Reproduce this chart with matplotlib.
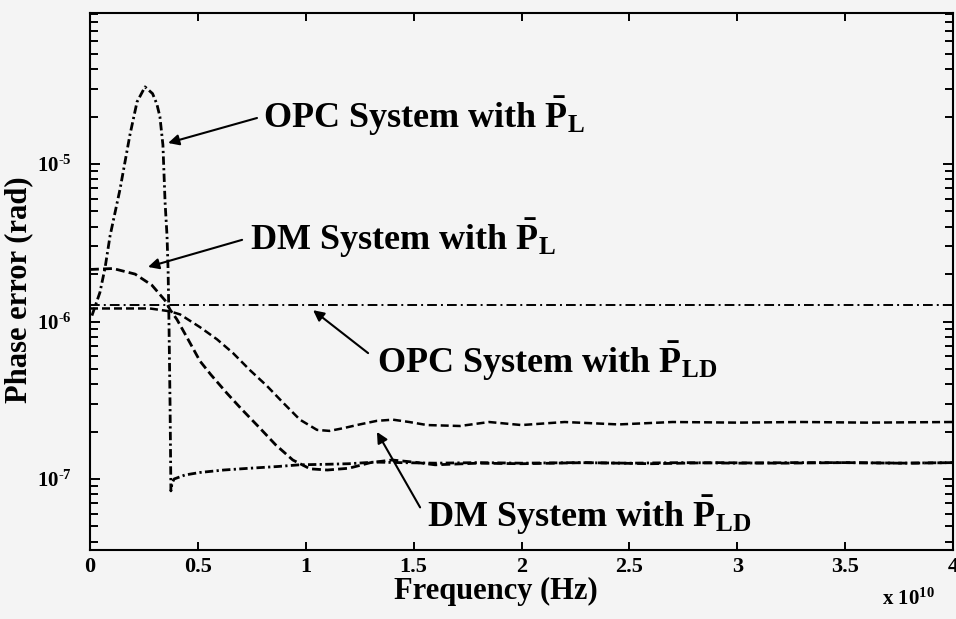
import numpy as np
import matplotlib
matplotlib.use("Agg")
import matplotlib.pyplot as plt
from matplotlib.ticker import FixedLocator, FixedFormatter, LogLocator, NullFormatter

plt.rcParams['font.family'] = ['Liberation Serif', 'DejaVu Serif']
plt.rcParams['font.weight'] = 'bold'
plt.rcParams['mathtext.fontset'] = 'custom'
plt.rcParams['mathtext.rm'] = 'Liberation Serif:bold'
plt.rcParams['mathtext.bf'] = 'Liberation Serif:bold'
plt.rcParams['mathtext.it'] = 'Liberation Serif:bold:italic'

# frequency in units of 1e10 Hz, phase error in rad
opc_pl_f = [0.009, 0.046, 0.07, 0.093, 0.139, 0.185, 0.218, 0.255, 0.29, 0.31, 0.324,
            0.338, 0.348, 0.357, 0.362, 0.366, 0.371, 0.375, 0.38, 0.39, 0.44, 0.51,
            0.62, 0.74, 0.87, 0.97, 1.1, 1.2, 1.32, 1.44, 1.6, 1.8, 2.0, 2.25, 2.5,
            2.75, 3.0, 3.25, 3.5, 3.75, 4.0]
opc_pl_y = [1.09e-6, 1.53e-6, 2.2e-6, 3.5e-6, 6.9e-6, 1.53e-5, 2.48e-5, 3.09e-5, 2.8e-5,
            2.4e-5, 2.0e-5, 1.32e-5, 5.7e-6, 3.5e-6, 2.1e-6, 1.0e-6, 3.0e-7, 8.4e-8,
            9.4e-8, 1.0e-7, 1.06e-7, 1.1e-7, 1.14e-7, 1.17e-7, 1.2e-7, 1.23e-7, 1.24e-7,
            1.25e-7, 1.28e-7, 1.27e-7, 1.26e-7, 1.27e-7, 1.26e-7, 1.27e-7, 1.26e-7,
            1.27e-7, 1.26e-7, 1.27e-7, 1.27e-7, 1.26e-7, 1.27e-7]

dm_pl_f = [0.0, 0.107, 0.209, 0.287, 0.348, 0.371, 0.403, 0.45, 0.51, 0.56, 0.635,
           0.7, 0.788, 0.86, 0.94, 1.02, 1.1, 1.2, 1.3, 1.4, 1.5, 1.6, 1.8, 2.0, 2.3,
           2.6, 2.9, 3.2, 3.5, 3.8, 4.0]
dm_pl_y = [2.14e-6, 2.17e-6, 2.0e-6, 1.7e-6, 1.36e-6, 1.19e-6, 1.03e-6, 7.9e-7, 5.6e-7,
           4.6e-7, 3.5e-7, 2.8e-7, 2.1e-7, 1.65e-7, 1.32e-7, 1.16e-7, 1.14e-7, 1.17e-7,
           1.27e-7, 1.32e-7, 1.28e-7, 1.23e-7, 1.26e-7, 1.25e-7, 1.27e-7, 1.25e-7,
           1.27e-7, 1.26e-7, 1.27e-7, 1.26e-7, 1.27e-7]

opc_pld_f = [0.0, 1.0, 2.0, 3.0, 4.0]
opc_pld_y = [1.28e-6, 1.28e-6, 1.28e-6, 1.28e-6, 1.28e-6]

dm_pld_f = [0.0, 0.15, 0.278, 0.371, 0.417, 0.51, 0.589, 0.663, 0.742, 0.82, 0.895,
            0.973, 1.052, 1.11, 1.173, 1.25, 1.33, 1.404, 1.48, 1.562, 1.715, 1.85,
            2.0, 2.2, 2.45, 2.7, 3.0, 3.3, 3.6, 4.0]
dm_pld_y = [1.21e-6, 1.21e-6, 1.21e-6, 1.16e-6, 1.11e-6, 9.2e-7, 7.7e-7, 6.3e-7, 4.9e-7,
            3.9e-7, 3.05e-7, 2.38e-7, 2.05e-7, 2.02e-7, 2.1e-7, 2.22e-7, 2.34e-7,
            2.38e-7, 2.3e-7, 2.2e-7, 2.17e-7, 2.3e-7, 2.2e-7, 2.3e-7, 2.22e-7, 2.3e-7,
            2.28e-7, 2.3e-7, 2.28e-7, 2.3e-7]

x_ticks = [0, 0.5, 1, 1.5, 2, 2.5, 3, 3.5, 4]
x_labels = ['0', '0.5', '1', '1.5', '2', '2.5', '3', '3.5', '4']
y_ticks = [1e-7, 1e-6, 1e-5]
y_labels = [r'$10^{\text{-}7}$', r'$10^{\text{-}6}$', r'$10^{\text{-}5}$']

bg = '#f4f4f4'
fig = plt.figure(figsize=(9.56, 6.19), dpi=100, facecolor=bg)
ax = fig.add_axes([90/956, 1-550/619, 863/956, 537/619], facecolor=bg)

ax.plot(opc_pl_f, opc_pl_y, color='k', lw=2.0, dashes=(3, 1.2, 0.8, 1.2))
ax.plot(dm_pl_f, dm_pl_y, color='k', lw=2.0, dashes=(3.2, 1.5))
ax.plot(dm_pld_f, dm_pld_y, color='k', lw=1.8, dashes=(3.2, 1.6))
ax.plot(opc_pld_f, opc_pld_y, color='k', lw=1.4, dashes=(5, 2.1, 1.0, 2.1))

ax.set_yscale('log')
ax.set_xlim(0, 4)
ax.set_ylim(3.54e-8, 9.1e-5)

ax.xaxis.set_major_locator(FixedLocator(x_ticks))
ax.xaxis.set_major_formatter(FixedFormatter(x_labels))
ax.yaxis.set_major_locator(FixedLocator(y_ticks))
ax.yaxis.set_major_formatter(FixedFormatter(y_labels))
ax.yaxis.set_minor_locator(LogLocator(base=10, subs=np.arange(2, 10), numticks=20))
ax.yaxis.set_minor_formatter(NullFormatter())

ax.tick_params(axis='both', which='both', direction='in', top=True, right=True,
               width=1.4, labelsize=16)
ax.tick_params(axis='x', which='major', length=6, pad=5)
ax.tick_params(axis='y', which='major', length=7, pad=13, labelsize=15)
ax.tick_params(axis='y', which='minor', length=6)
for s in ax.spines.values():
    s.set_linewidth(1.5)

ax.set_xlabel('Frequency (Hz)', fontsize=22, fontweight='bold')
ax.xaxis.set_label_coords(0.47, -0.05)
ax.set_ylabel('Phase error (rad)', fontsize=22, fontweight='bold')
ax.yaxis.set_label_coords(-0.066, 0.484)

fig.text(882/956, 1-605/619, r'x 10$^{10}$', fontsize=15, fontweight='bold')

arrow = dict(arrowstyle='-|>', color='k', lw=1.5, mutation_scale=16, shrinkA=0, shrinkB=0)

ax.text(0.802, 1.69e-5, r'OPC System with $\bar{\mathrm{P}}_{\mathrm{L}}$', fontsize=26, va='baseline')
ax.annotate('', xy=(0.362, 1.36e-5), xytext=(0.774, 1.96e-5), arrowprops=arrow)

ax.text(0.742, 2.84e-6, r'DM System with $\bar{\mathrm{P}}_{\mathrm{L}}$', fontsize=26, va='baseline')
ax.annotate('', xy=(0.269, 2.22e-6), xytext=(0.705, 3.3e-6), arrowprops=arrow)

ax.text(1.33, 4.71e-7, r'OPC System with $\bar{\mathrm{P}}_{\mathrm{LD}}$', fontsize=26, va='baseline')
ax.annotate('', xy=(1.034, 1.18e-6), xytext=(1.289, 6.3e-7), arrowprops=arrow)

ax.text(1.562, 4.97e-8, r'DM System with $\bar{\mathrm{P}}_{\mathrm{LD}}$', fontsize=26, va='baseline')
ax.annotate('', xy=(1.33, 1.99e-7), xytext=(1.53, 6.6e-8), arrowprops=arrow)

fig.savefig('out.png', dpi=100, facecolor=bg)
